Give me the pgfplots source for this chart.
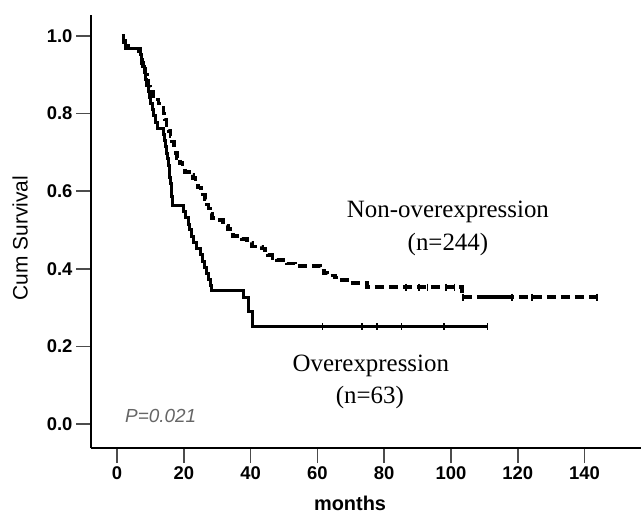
\documentclass[border=0pt]{standalone}
\usepackage{fontspec}
\setmainfont{Liberation Sans}
\newfontfamily\timesfont{Liberation Serif}
\usepackage{pgfplots}
\pgfplotsset{compat=1.18}

\begin{document}
\begin{tikzpicture}
\begin{axis}[
    name=ax,
    at={(0,0)}, anchor=south west,
    scale only axis,
    width=550bp, height=433bp,
    xmin=-7.78, xmax=156.9,
    ymin=-0.0619, ymax=1.054,
    axis x line=bottom, axis y line=left,
    axis line style={-, line width=2bp, black},
    xtick={0,20,...,140},
    ytick={0,0.2,0.4,0.6,0.8,1.0},
    y tick label style={/pgf/number format/.cd, fixed, fixed zerofill, precision=1},
    tick align=outside,
    major tick length=15bp,
    tick style={line width=1.5bp, black!70},
    /pgf/number format/assume math mode=true,
    tick label style={font=\fontsize{18.5}{20}\selectfont\bfseries},
    xlabel={months},
    ylabel={Cum Survival},
    xlabel style={font=\fontsize{20}{22}\selectfont\bfseries, at={(axis description cs:0.471,-0.127)}, anchor=center},
    ylabel style={font=\fontsize{21}{23}\selectfont, at={(axis description cs:-0.129,0.485)}, anchor=center},
    clip=false,
]
% Overexpression (n=63)
\addplot[const plot, line width=3bp, black] coordinates {
(1.5,1.000) (2.0,0.984) (2.5,0.968) (6.9,0.952) (7.3,0.937) (7.7,0.921)
(8.1,0.905) (8.5,0.889) (8.9,0.873) (9.3,0.857) (9.7,0.841) (10.1,0.825)
(10.6,0.810) (11.0,0.794) (11.5,0.778) (12.0,0.762) (13.8,0.746) (14.2,0.730)
(14.5,0.714) (14.8,0.698) (15.1,0.683) (15.3,0.667) (15.6,0.651) (15.8,0.635)
(16.0,0.619) (16.2,0.603) (16.4,0.587) (16.6,0.563) (19.8,0.547) (20.6,0.531)
(21.3,0.515) (21.8,0.500) (22.3,0.484) (23.0,0.468) (23.8,0.452) (25.0,0.436)
(25.6,0.420) (26.2,0.404) (26.8,0.388) (27.4,0.372) (28.0,0.356) (28.4,0.345)
(37.8,0.325) (39.5,0.290) (40.7,0.250) (111,0.250)
};
% Non-overexpression (n=244)
\addplot[const plot, line width=3.5bp, black, dash pattern=on 9bp off 5bp] coordinates {
(1.5,1.000) (2.0,0.988) (2.6,0.976) (3.5,0.968) (6.5,0.960) (7.0,0.945)
(7.5,0.930) (8.0,0.915) (8.5,0.900) (9.0,0.885) (9.5,0.870) (10.0,0.857)
(10.8,0.845) (11.5,0.836) (12.5,0.826) (13.5,0.815) (13.9,0.800) (14.3,0.785)
(14.8,0.770) (15.4,0.755) (16.0,0.742) (16.5,0.728) (17.0,0.712) (17.5,0.698)
(18.0,0.686) (18.9,0.673) (19.6,0.662) (20.4,0.650) (21.5,0.642) (22.8,0.634)
(23.5,0.622) (24.3,0.610) (25.1,0.600) (25.7,0.592) (26.3,0.578) (26.8,0.566)
(27.4,0.555) (27.9,0.543) (28.4,0.531) (30.0,0.526) (31.7,0.520) (32.5,0.512)
(33.2,0.503) (33.8,0.496) (34.7,0.484) (37.4,0.477) (38.9,0.468) (40.4,0.458)
(43.4,0.452) (44.3,0.443) (45.2,0.436) (46.6,0.428) (47.9,0.422) (50.9,0.414)
(53.3,0.407) (61.0,0.396) (62.0,0.389) (63.0,0.383) (65.3,0.378) (67.4,0.371)
(69.8,0.363) (74.9,0.353) (103.3,0.327) (144.0,0.327)
};
% dense censoring cluster
\addplot[line width=3.5bp, black] coordinates {(108,0.327) (117.7,0.327)};
% censor marks
\addplot[only marks, mark=|, mark size=3.5bp, mark options={line width=1.5bp, black}] coordinates {
(61.6,0.25) (73.3,0.25) (77.8,0.25) (85.2,0.25) (97.9,0.25) (111,0.25)
(86.5,0.353) (90.5,0.353) (93.0,0.353) (98.5,0.353) (101.0,0.353)
(103.6,0.327) (118.3,0.327) (124.3,0.327) (143.7,0.327)
};
\node[anchor=base, font=\timesfont\fontsize{25}{30}\selectfont] at (axis cs:99.1,0.531) {Non-overexpression};
\node[anchor=base, font=\timesfont\fontsize{25}{30}\selectfont] at (axis cs:99.1,0.448) {(n=244)};
\node[anchor=base, font=\timesfont\fontsize{25}{30}\selectfont] at (axis cs:76.0,0.134) {Overexpression};
\node[anchor=base, font=\timesfont\fontsize{25}{30}\selectfont] at (axis cs:75.7,0.0515) {(n=63)};
\node[anchor=base west, inner sep=0pt, text=black!60, font=\fontsize{19}{21}\selectfont\itshape] at (axis cs:2.4,0.005) {P=0.021};
\end{axis}
\path ([xshift=-91bp,yshift=-67bp]ax.south west) rectangle ([xshift=2bp,yshift=15bp]ax.north east);
\end{tikzpicture}
\end{document}
